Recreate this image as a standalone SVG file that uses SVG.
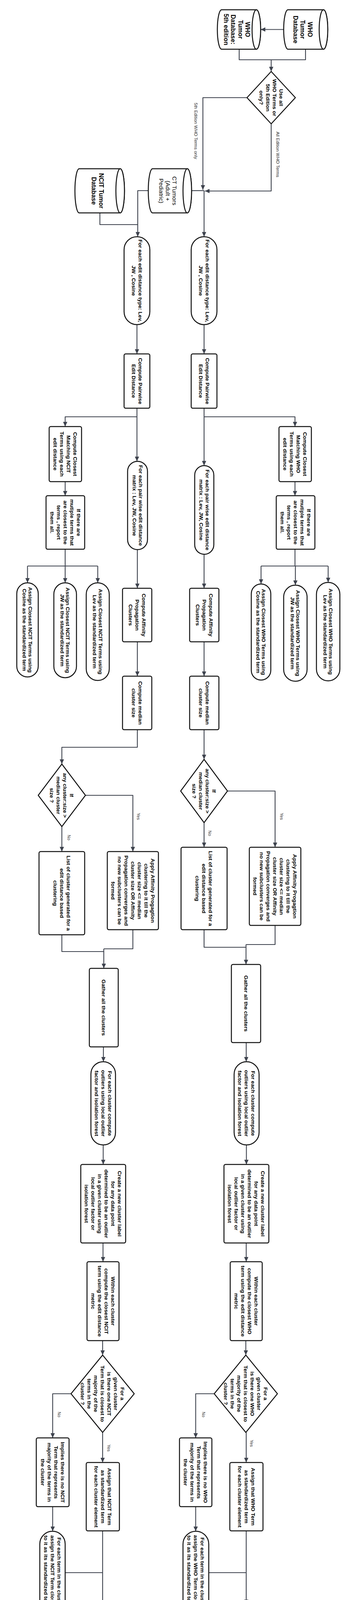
<svg xmlns="http://www.w3.org/2000/svg" width="897" height="5157" viewBox="0 0 897 5157">
<style>
.n{fill:#fff;stroke:#111;stroke-width:2.5;stroke-linejoin:round}
.t{font-family:'Liberation Sans',Arial,sans-serif;font-size:13.7px;font-weight:bold;fill:#000;text-anchor:middle}
.tc{font-size:16px}
.tr{font-weight:normal;font-size:15px}
.lb{font-family:'Liberation Sans',Arial,sans-serif;font-size:11.5px;fill:#333}
.lm{text-anchor:middle;font-size:11px}
.lbb{font-weight:bold;font-size:13.5px;fill:#111}
.c{fill:none;stroke:#3e434e;stroke-width:2.2;stroke-linejoin:round}
.a{marker-end:url(#ah)}
</style>
<defs>
<marker id="ah" markerUnits="userSpaceOnUse" markerWidth="12" markerHeight="11" viewBox="0 0 12 11" refX="12" refY="5.5" orient="auto">
<path d="M0,0 L12,5.5 L0,11 z" fill="#3e434e"/>
</marker>
</defs>
<rect x="0" y="0" width="897" height="5157" fill="#fff"/>
<g transform="translate(897,0) rotate(90)">
<g id="connectors">
<path class="c a" d="M75.5,170 V229"/>
<path class="c" d="M126,114 H153 V284 H126"/>
<path class="c a" d="M153,202 H183"/>
<path class="c a" d="M250,264 V377 H486"/>
<path class="c a" d="M317,202 H489 V372"/>
<path class="c" d="M488,406 V374"/>
<path class="c a" d="M488,374 H606"/>
<path class="c a" d="M488,517 V544 H606"/>
<path class="c" d="M545,641 H575 V544"/>
<path class="c a" d="M831,374 H906"/>
<path class="c a" d="M831,546 H906"/>
<path class="c a" d="M1045,374 H1192"/>
<path class="c a" d="M1067,374 V141 H1092"/>
<path class="c a" d="M1045,546 H1181"/>
<path class="c a" d="M1067,546 V730 H1092"/>
<path class="c a" d="M1233,141 H1269"/>
<path class="c a" d="M1233,730 H1269"/>
<path class="c" d="M1406,141 H1449 M1449,56 V228"/>
<path class="c a" d="M1449,56 H1491"/>
<path class="c a" d="M1449,140 H1498"/>
<path class="c a" d="M1449,228 H1495"/>
<path class="c" d="M1406,730 H1449 M1449,646.5 V826.5"/>
<path class="c a" d="M1449,646.5 H1492"/>
<path class="c a" d="M1449,730 H1492"/>
<path class="c a" d="M1449,826.5 H1492"/>
<path class="c a" d="M1419,374 H1506"/>
<path class="c a" d="M1407,545 H1506"/>
<path class="c a" d="M1643,374 H1731"/>
<path class="c a" d="M1643,545 H1731"/>
<path class="c a" d="M1868,374 H1944"/>
<path class="c a" d="M1868,545 H1913 V738.5 H1956"/>
<path class="c a" d="M2106,374 H2169"/>
<path class="c a" d="M2025,314 V192 H2169"/>
<path class="c a" d="M2116,738.5 H2180"/>
<path class="c a" d="M2036,678 V556.5 H2180"/>
<path class="c" d="M2380,374 H2425 V266.5"/>
<path class="c" d="M2369,192 H2418 V266.5"/>
<path class="c a" d="M2418,266.5 H2469"/>
<path class="c" d="M2393,738.5 H2436 V631"/>
<path class="c" d="M2380,556.5 H2429 V631"/>
<path class="c a" d="M2429,631 H2479"/>
<path class="c a" d="M2669,266 H2718"/>
<path class="c a" d="M2680,632 H2718"/>
<path class="c a" d="M2931,265.5 H2981"/>
<path class="c a" d="M2931,632.5 H2981"/>
<path class="c a" d="M3182,266 H3230"/>
<path class="c a" d="M3182,633 H3230"/>
<path class="c a" d="M3432,267 H3469"/>
<path class="c a" d="M3432,634 H3469"/>
<path class="c a" d="M3568,348 V395.5 H3681"/>
<path class="c a" d="M3568,715 V762 H3681"/>
<path class="c a" d="M3667,266 H3744"/>
<path class="c a" d="M3667,634 H3744"/>
<path class="c a" d="M3857,395.5 H3920"/>
<path class="c a" d="M3857,762 H3920"/>
<path class="c" d="M4026,362 V266"/>
<path class="c" d="M4026,730 V634"/>
<path class="c a" d="M3919,266 H4107"/>
<path class="c" d="M3919,634 H4151 M4151,633.5 V832"/>
<path class="c a" d="M4151,633.5 H4230"/>
<path class="c a" d="M4151,733.5 H4237"/>
<path class="c a" d="M4151,832 H4243"/>
<path class="c a" d="M4206,348 V465 H4806"/>
<path class="c" d="M4676,465 V642.5"/>
<path class="c a" d="M4676,557 H4806"/>
<path class="c a" d="M4676,642.5 H4806"/>
<path class="c a" d="M4206,185 V149 H4480"/>
<path class="c" d="M4430,149 V343"/>
<path class="c a" d="M4430,247.5 H4480"/>
<path class="c a" d="M4430,343 H4480"/>
<text class="lb" x="263" y="399">5th Edition WHO Terms only</text>
<text class="lb" x="337" y="189">All Edition WHO Terms</text>
<text class="lb lm" x="2133" y="363">No</text>
<text class="lb lm" x="2090" y="179">Yes</text>
<text class="lb lm" x="2144" y="724">No</text>
<text class="lb lm" x="2090" y="546">Yes</text>
<text class="lb lm" x="3621" y="379">No</text>
<text class="lb lm" x="3621" y="749">No</text>
<text class="lb lm" x="3695" y="256">Yes</text>
<text class="lb lm" x="3707" y="622">Yes</text>
<text class="lb" x="4262" y="451">All Edition WHO Terms</text>
<text class="lb lbb" x="4248" y="124">5th Edition WHO Terms</text>
</g>

<g id="db_who">
<path class="n" d="M25,68 L25,159 A50.5 11 0 0 0 126,159 L126,68 A50.5 11 0 0 0 25,68 Z"/>
<ellipse class="n" cx="75.5" cy="68" rx="50.5" ry="11"/>
<text class="t tc" x="75.5" y="108.3"><tspan x="75.5">WHO</tspan><tspan x="75.5" dy="18.4">Tumor</tspan><tspan x="75.5" dy="18.4">Database</tspan></text>
</g>
<g id="db_who5">
<path class="n" d="M25,240 L25,329 A50.5 11 0 0 0 126,329 L126,240 A50.5 11 0 0 0 25,240 Z"/>
<ellipse class="n" cx="75.5" cy="240" rx="50.5" ry="11"/>
<text class="t tc" x="75.5" y="268.1"><tspan x="75.5">WHO</tspan><tspan x="75.5" dy="18.4">Tumor</tspan><tspan x="75.5" dy="18.4">Database:</tspan><tspan x="75.5" dy="18.4">5th edition</tspan></text>
</g>
<g id="d_edition">
<polygon class="n" points="183,202 250,140 317,202 250,264"/>
<text class="t" x="250" y="181.5"><tspan x="250">Use all</tspan><tspan x="250" dy="17">WHO Terms or</tspan><tspan x="250" dy="17">5th Edition</tspan><tspan x="250" dy="17">only?</tspan></text>
</g>
<g id="db_ct">
<path class="n" d="M432,417 L432,506 A56.5 11 0 0 0 545,506 L545,417 A56.5 11 0 0 0 432,417 Z"/>
<ellipse class="n" cx="488.5" cy="417" rx="56.5" ry="11"/>
<text class="t tr" x="488.5" y="455.4"><tspan x="488.5">CT Tumors</tspan><tspan x="488.5" dy="17">(Adult +</tspan><tspan x="488.5" dy="17">Pediatric)</tspan></text>
</g>
<g id="db_ncit">
<path class="n" d="M432,589 L432,694 A56.5 11 0 0 0 545,694 L545,589 A56.5 11 0 0 0 432,589 Z"/>
<ellipse class="n" cx="488.5" cy="589" rx="56.5" ry="11"/>
<text class="t tc" x="488.5" y="643.5"><tspan x="488.5">NCIT Tumor</tspan><tspan x="488.5" dy="18.4">Database</tspan></text>
</g>

<g id="s_who1">
<rect class="n" x="606" y="341" width="225" height="66" rx="33"/>
<text class="t" x="718.5" y="370.5"><tspan x="718.5">For each edit distance type: Lev,</tspan><tspan x="718.5" dy="17">JW , Cosine</tspan></text>
</g>
<g id="s_ncit1">
<rect class="n" x="606" y="513" width="225" height="66" rx="33"/>
<text class="t" x="718.5" y="542.5"><tspan x="718.5">For each edit distance type: Lev,</tspan><tspan x="718.5" dy="17">JW , Cosine</tspan></text>
</g>
<g id="b_who_pair">
<rect class="n" x="906" y="341" width="139" height="66" rx="4"/>
<text class="t" x="975.5" y="370.5"><tspan x="975.5">Compute Pairwise</tspan><tspan x="975.5" dy="17">Edit Distance</tspan></text>
</g>
<g id="b_ncit_pair">
<rect class="n" x="906" y="513" width="139" height="66" rx="4"/>
<text class="t" x="975.5" y="542.5"><tspan x="975.5">Compute Pairwise</tspan><tspan x="975.5" dy="17">Edit Distance</tspan></text>
</g>
<g id="b_who_closest">
<rect class="n" x="1092" y="99" width="141" height="83" rx="4"/>
<text class="t" x="1162.5" y="120"><tspan x="1162.5">Compute Closest</tspan><tspan x="1162.5" dy="17">Matching WHO</tspan><tspan x="1162.5" dy="17">Terms using each</tspan><tspan x="1162.5" dy="17">edit distance</tspan></text>
</g>
<g id="b_ncit_closest">
<rect class="n" x="1092" y="688" width="141" height="83" rx="4"/>
<text class="t" x="1162.5" y="709"><tspan x="1162.5">Compute Closest</tspan><tspan x="1162.5" dy="17">Matching NCIT</tspan><tspan x="1162.5" dy="17">Terms using each</tspan><tspan x="1162.5" dy="17">edit distance</tspan></text>
</g>
<g id="b_who_multi">
<rect class="n" x="1269" y="90" width="137" height="99" rx="4"/>
<text class="t" x="1337.5" y="110.5"><tspan x="1337.5">If there are</tspan><tspan x="1337.5" dy="17">mutiple terms that</tspan><tspan x="1337.5" dy="17">are closest to the</tspan><tspan x="1337.5" dy="17">terms , report</tspan><tspan x="1337.5" dy="17">them all.</tspan></text>
</g>
<g id="b_ncit_multi">
<rect class="n" x="1269" y="680" width="137" height="99" rx="4"/>
<text class="t" x="1337.5" y="700.5"><tspan x="1337.5">If there are</tspan><tspan x="1337.5" dy="17">mutiple terms that</tspan><tspan x="1337.5" dy="17">are closest to the</tspan><tspan x="1337.5" dy="17">terms , report</tspan><tspan x="1337.5" dy="17">them all.</tspan></text>
</g>
<g id="a_who_lev">
<rect class="n" x="1491" y="26" width="252" height="60" rx="30"/>
<text class="t" x="1617" y="53.75"><tspan x="1617">Assign Closest WHO Terms using</tspan><tspan x="1617" dy="14.5">Lev as the standardized term</tspan></text>
</g>
<g id="a_who_jw">
<rect class="n" x="1498" y="110" width="246" height="60" rx="30"/>
<text class="t" x="1621" y="137.75"><tspan x="1621">Assign Closest WHO Terms using</tspan><tspan x="1621" dy="14.5">JW as the standardized term</tspan></text>
</g>
<g id="a_who_cos">
<rect class="n" x="1495" y="203" width="246" height="50" rx="25"/>
<text class="t" x="1618" y="225.75"><tspan x="1618">Assign Closest WHO Terms using</tspan><tspan x="1618" dy="14.5">Cosine as the standardized term</tspan></text>
</g>
<g id="a_ncit_lev">
<rect class="n" x="1492" y="617" width="250" height="59" rx="29.5"/>
<text class="t" x="1617" y="644.25"><tspan x="1617">Assign Closest NCIT Terms using</tspan><tspan x="1617" dy="14.5">Lev as the standardized term</tspan></text>
</g>
<g id="a_ncit_jw">
<rect class="n" x="1492" y="701" width="243" height="58" rx="29"/>
<text class="t" x="1613.5" y="727.75"><tspan x="1613.5">Assign Closest NCIT Terms using</tspan><tspan x="1613.5" dy="14.5">JW as the standardized term</tspan></text>
</g>
<g id="a_ncit_cos">
<rect class="n" x="1492" y="799" width="241" height="55" rx="27.5"/>
<text class="t" x="1612.5" y="824.25"><tspan x="1612.5">Assign Closest NCIT Terms using</tspan><tspan x="1612.5" dy="14.5">Cosine as the standardized term</tspan></text>
</g>
<g id="s_who_pw">
<rect class="n" x="1192" y="349" width="227" height="49" rx="24.5"/>
<text class="t" x="1305.5" y="370"><tspan x="1305.5">For each pair wise edit distance</tspan><tspan x="1305.5" dy="16">matrix : Lev, JW, Cosine</tspan></text>
</g>
<g id="s_ncit_pw">
<rect class="n" x="1181" y="519" width="226" height="51" rx="25.5"/>
<text class="t" x="1294" y="541"><tspan x="1294">For each pair wise edit distance</tspan><tspan x="1294" dy="16">matrix : Lev, JW, Cosine</tspan></text>
</g>
<g id="b_who_ap">
<rect class="n" x="1506" y="336" width="137" height="75" rx="4"/>
<text class="t" x="1574.5" y="361.5"><tspan x="1574.5">Compute Affinity</tspan><tspan x="1574.5" dy="17">Propagation</tspan><tspan x="1574.5" dy="17">Clusters</tspan></text>
</g>
<g id="b_ncit_ap">
<rect class="n" x="1506" y="508" width="137" height="75" rx="4"/>
<text class="t" x="1574.5" y="533.5"><tspan x="1574.5">Compute Affinity</tspan><tspan x="1574.5" dy="17">Propagation</tspan><tspan x="1574.5" dy="17">Clusters</tspan></text>
</g>
<g id="b_who_med">
<rect class="n" x="1731" y="336" width="137" height="75" rx="4"/>
<text class="t" x="1799.5" y="370"><tspan x="1799.5">Compute median</tspan><tspan x="1799.5" dy="17">cluster size</tspan></text>
</g>
<g id="b_ncit_med">
<rect class="n" x="1731" y="508" width="137" height="75" rx="4"/>
<text class="t" x="1799.5" y="542"><tspan x="1799.5">Compute median</tspan><tspan x="1799.5" dy="17">cluster size</tspan></text>
</g>
<g id="d_who_size">
<polygon class="n" points="1944,374 2025,314 2106,374 2025,434"/>
<text class="t" x="2025" y="353.5"><tspan x="2025">If</tspan><tspan x="2025" dy="17">any cluster:size &gt;</tspan><tspan x="2025" dy="17">median cluster</tspan><tspan x="2025" dy="17">size ?</tspan></text>
</g>
<g id="d_ncit_size">
<polygon class="n" points="1956,738.5 2036,678 2116,738.5 2036,799"/>
<text class="t" x="2036" y="718"><tspan x="2036">If</tspan><tspan x="2036" dy="17">any cluster:size &gt;</tspan><tspan x="2036" dy="17">median cluster</tspan><tspan x="2036" dy="17">size ?</tspan></text>
</g>
<g id="b_who_list">
<rect class="n" x="2169" y="315" width="211" height="118" rx="4"/>
<text class="t" x="2274.5" y="362"><tspan x="2274.5">List of cluster generated for a</tspan><tspan x="2274.5" dy="17">edit distance based</tspan><tspan x="2274.5" dy="17">clustering</tspan></text>
</g>
<g id="b_who_apply">
<rect class="n" x="2169" y="126" width="200" height="132" rx="4"/>
<text class="t" x="2269" y="146"><tspan x="2269">Apply Affinity Progagtion</tspan><tspan x="2269" dy="17">clustering to it till the</tspan><tspan x="2269" dy="17">cluster size &lt;= median</tspan><tspan x="2269" dy="17">cluster size OR Affinity</tspan><tspan x="2269" dy="17">Propagation converges and</tspan><tspan x="2269" dy="17">no new subclusters can be</tspan><tspan x="2269" dy="17">formed</tspan></text>
</g>
<g id="b_ncit_list">
<rect class="n" x="2180" y="680" width="213" height="117" rx="4"/>
<text class="t" x="2286.5" y="726.5"><tspan x="2286.5">List of cluster generated for a</tspan><tspan x="2286.5" dy="17">edit distance based</tspan><tspan x="2286.5" dy="17">clustering</tspan></text>
</g>
<g id="b_ncit_apply">
<rect class="n" x="2180" y="491" width="200" height="131" rx="4"/>
<text class="t" x="2280" y="510.5"><tspan x="2280">Apply Affinity Progagtion</tspan><tspan x="2280" dy="17">clustering to it till the</tspan><tspan x="2280" dy="17">cluster size &lt;= median</tspan><tspan x="2280" dy="17">cluster size OR Affinity</tspan><tspan x="2280" dy="17">Propagation converges and</tspan><tspan x="2280" dy="17">no new subclusters can be</tspan><tspan x="2280" dy="17">formed</tspan></text>
</g>
<g id="b_who_gather">
<rect class="n" x="2469" y="229" width="200" height="75" rx="4"/>
<text class="t" x="2569" y="271.5">Gather all the clusters</text>
</g>
<g id="b_ncit_gather">
<rect class="n" x="2479" y="594" width="201" height="74" rx="4"/>
<text class="t" x="2579.5" y="636">Gather all the clusters</text>
</g>
<g id="s_who_out">
<rect class="n" x="2718" y="233" width="213" height="64" rx="32"/>
<text class="t" x="2824.5" y="253"><tspan x="2824.5">For each cluster compute</tspan><tspan x="2824.5" dy="17">outliers using local outlier</tspan><tspan x="2824.5" dy="17">factor and isolation forest</tspan></text>
</g>
<g id="s_ncit_out">
<rect class="n" x="2718" y="601" width="213" height="63" rx="31.5"/>
<text class="t" x="2824.5" y="620.5"><tspan x="2824.5">For each cluster compute</tspan><tspan x="2824.5" dy="17">outliers using local outlier</tspan><tspan x="2824.5" dy="17">factor and isolation forest</tspan></text>
</g>
<g id="b_who_create">
<rect class="n" x="2981" y="208" width="201" height="115" rx="4"/>
<text class="t" x="3081.5" y="228"><tspan x="3081.5">Create a new cluster label</tspan><tspan x="3081.5" dy="17">for any data point</tspan><tspan x="3081.5" dy="17">determined to be an outlier</tspan><tspan x="3081.5" dy="17">in a given cluster using</tspan><tspan x="3081.5" dy="17">local outlier factor or</tspan><tspan x="3081.5" dy="17">isolation forest</tspan></text>
</g>
<g id="b_ncit_create">
<rect class="n" x="2981" y="575" width="201" height="115" rx="4"/>
<text class="t" x="3081.5" y="595"><tspan x="3081.5">Create a new cluster label</tspan><tspan x="3081.5" dy="17">for any data point</tspan><tspan x="3081.5" dy="17">determined to be an outlier</tspan><tspan x="3081.5" dy="17">in a given cluster using</tspan><tspan x="3081.5" dy="17">local outlier factor or</tspan><tspan x="3081.5" dy="17">isolation forest</tspan></text>
</g>
<g id="b_who_within">
<rect class="n" x="3230" y="225" width="202" height="82" rx="4"/>
<text class="t" x="3331" y="245.5"><tspan x="3331">Within each cluster</tspan><tspan x="3331" dy="17">compute the closest WHO</tspan><tspan x="3331" dy="17">term using the edit distance</tspan><tspan x="3331" dy="17">metric</tspan></text>
</g>
<g id="b_ncit_within">
<rect class="n" x="3230" y="592" width="202" height="82" rx="4"/>
<text class="t" x="3331" y="612.5"><tspan x="3331">Within each cluster</tspan><tspan x="3331" dy="17">compute the closest NCIT</tspan><tspan x="3331" dy="17">term using the edit distance</tspan><tspan x="3331" dy="17">metric</tspan></text>
</g>
<g id="d_who_major">
<polygon class="n" points="3469,267 3568,186 3667,267 3568,348"/>
<text class="t" x="3568" y="221"><tspan x="3568">For a</tspan><tspan x="3568" dy="17">given cluster</tspan><tspan x="3568" dy="17">is there one WHO</tspan><tspan x="3568" dy="17">Term that is closest to</tspan><tspan x="3568" dy="17">majority of the</tspan><tspan x="3568" dy="17">terms in the</tspan><tspan x="3568" dy="17">cluster ?</tspan></text>
</g>
<g id="d_ncit_major">
<polygon class="n" points="3469,634 3568,553 3667,634 3568,715"/>
<text class="t" x="3568" y="588"><tspan x="3568">For a</tspan><tspan x="3568" dy="17">given cluster</tspan><tspan x="3568" dy="17">is there one NCIT</tspan><tspan x="3568" dy="17">Term that is closest to</tspan><tspan x="3568" dy="17">majority of the</tspan><tspan x="3568" dy="17">terms in the</tspan><tspan x="3568" dy="17">cluster ?</tspan></text>
</g>
<g id="b_who_implies">
<rect class="n" x="3681" y="354" width="176" height="83" rx="4"/>
<text class="t" x="3769" y="375"><tspan x="3769">Implies there is no WHO</tspan><tspan x="3769" dy="17">Term that represents</tspan><tspan x="3769" dy="17">majority of the terms in</tspan><tspan x="3769" dy="17">the cluster</tspan></text>
</g>
<g id="b_ncit_implies">
<rect class="n" x="3681" y="720" width="176" height="84" rx="4"/>
<text class="t" x="3769" y="741.5"><tspan x="3769">Implies there is no NCIT</tspan><tspan x="3769" dy="17">Term that represents</tspan><tspan x="3769" dy="17">majority of the terms in</tspan><tspan x="3769" dy="17">the cluster</tspan></text>
</g>
<g id="b_who_assign">
<rect class="n" x="3744" y="223" width="175" height="85" rx="4"/>
<text class="t" x="3831.5" y="253.5"><tspan x="3831.5">Assign that WHO Term</tspan><tspan x="3831.5" dy="17">as standardized term</tspan><tspan x="3831.5" dy="17">for each cluster element</tspan></text>
</g>
<g id="b_ncit_assign">
<rect class="n" x="3744" y="591" width="175" height="85" rx="4"/>
<text class="t" x="3831.5" y="621.5"><tspan x="3831.5">Assign that NCIT Term</tspan><tspan x="3831.5" dy="17">as standardized term</tspan><tspan x="3831.5" dy="17">for each cluster element</tspan></text>
</g>
<g id="s_who_each">
<rect class="n" x="3920" y="362" width="211" height="66" rx="33"/>
<text class="t" x="4025.5" y="383"><tspan x="4025.5">For each term in the cluster</tspan><tspan x="4025.5" dy="17">assign the WHO Term closest</tspan><tspan x="4025.5" dy="17">to it as its standardized term.</tspan></text>
</g>
<g id="s_ncit_each">
<rect class="n" x="3920" y="730" width="211" height="65" rx="32.5"/>
<text class="t" x="4025.5" y="750.5"><tspan x="4025.5">For each term in the cluster</tspan><tspan x="4025.5" dy="17">assign the NCIT Term closest</tspan><tspan x="4025.5" dy="17">to it as its standardized term.</tspan></text>
</g>
<g id="d_final">
<polygon class="n" points="4107,266.5 4206,185 4305,266.5 4206,348"/>
<text class="t" x="4206" y="263"><tspan x="4206">All WHO Terms or only</tspan><tspan x="4206" dy="17">5th Edition WHO Terms ?</tspan></text>
</g>
<g id="f_ncit_lev">
<rect class="n" x="4230" y="596" width="326" height="75" rx="37.5"/>
<text class="t" x="4393" y="631.25" xml:space="preserve"><tspan x="4393">Tumor Names Standardized  according to NCIT</tspan><tspan x="4393" dy="14.5">Terms using using Lev based AP</tspan></text>
</g>
<g id="f_ncit_jw">
<rect class="n" x="4237" y="696" width="326" height="75" rx="37.5"/>
<text class="t" x="4400" y="731.25" xml:space="preserve"><tspan x="4400">Tumor Names Standardized  according to NCIT</tspan><tspan x="4400" dy="14.5">Terms using using JW based AP</tspan></text>
</g>
<g id="f_ncit_cos">
<rect class="n" x="4243" y="795" width="326" height="74" rx="37"/>
<text class="t" x="4406" y="829.75" xml:space="preserve"><tspan x="4406">Tumor Names Standardized  according to NCIT</tspan><tspan x="4406" dy="14.5">Terms using using Cosine based AP</tspan></text>
</g>
<g id="f5_lev">
<rect class="n" x="4480" y="110" width="338" height="78" rx="39"/>
<text class="t" x="4649" y="146.75" xml:space="preserve"><tspan x="4649">Tumor Names Standardized  according to 5th</tspan><tspan x="4649" dy="14.5">edition WHO Terms using Lev based AP</tspan></text>
</g>
<g id="f5_cos">
<rect class="n" x="4480" y="209" width="338" height="77" rx="38.5"/>
<text class="t" x="4649" y="245.25" xml:space="preserve"><tspan x="4649">Tumor Names Standardized  according to 5th</tspan><tspan x="4649" dy="14.5">edition WHO Terms using Cosine based AP</tspan></text>
</g>
<g id="f5_jw">
<rect class="n" x="4480" y="304" width="338" height="78" rx="39"/>
<text class="t" x="4649" y="340.75" xml:space="preserve"><tspan x="4649">Tumor Names Standardized  according to 5th</tspan><tspan x="4649" dy="14.5">edition WHO Terms using JW based AP</tspan></text>
</g>
<g id="fa_lev">
<rect class="n" x="4806" y="428" width="324" height="74" rx="37"/>
<text class="t" x="4968" y="462.75" xml:space="preserve"><tspan x="4968">Tumor Names Standardized  according to All</tspan><tspan x="4968" dy="14.5">WHO Terms using using Lev based AP</tspan></text>
</g>
<g id="fa_jw">
<rect class="n" x="4806" y="519" width="324" height="76" rx="38"/>
<text class="t" x="4968" y="554.75" xml:space="preserve"><tspan x="4968">Tumor Names Standardized  according to All</tspan><tspan x="4968" dy="14.5">WHO Terms using using JW based AP</tspan></text>
</g>
<g id="fa_cos">
<rect class="n" x="4806" y="605" width="324" height="75" rx="37.5"/>
<text class="t" x="4968" y="640.25" xml:space="preserve"><tspan x="4968">Tumor Names Standardized  according to All</tspan><tspan x="4968" dy="14.5">WHO Terms using using Cosine based AP</tspan></text>
</g>
</g>
</svg>
